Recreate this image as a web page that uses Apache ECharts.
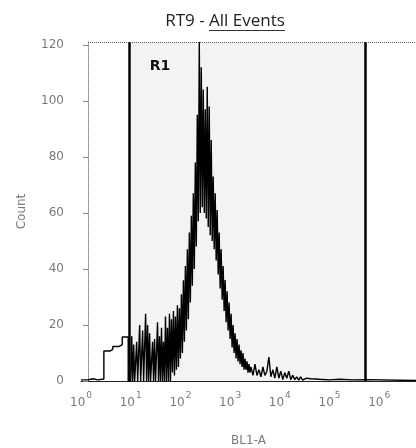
<!DOCTYPE html>
<html>
<head>
<meta charset="utf-8">
<script src="https://cdn.jsdelivr.net/npm/echarts@6/dist/echarts.min.js"></script>
<style>
  html, body { margin: 0; padding: 0; background: #fff; }
  #chart { width: 416px; height: 448px; }
</style>
</head>
<body>
<div id="chart"></div>
<script>
// BL1-A histogram: left edge of each bin (log10 of BL1-A) and event count in that bin
const binLog = [
  0.00, 0.14, 0.24, 0.34, 0.46, 0.58, 0.64, 0.76, 0.83, 0.95,
  1.00, 1.02, 1.04, 1.06, 1.08, 1.10, 1.12, 1.14, 1.16, 1.18,
  1.20, 1.22, 1.24, 1.26, 1.28, 1.30, 1.32, 1.34, 1.36, 1.38,
  1.40, 1.42, 1.44, 1.46, 1.48, 1.50, 1.52, 1.54, 1.56, 1.58,
  1.60, 1.62, 1.64, 1.66, 1.68, 1.70, 1.72, 1.74, 1.76, 1.78,
  1.80, 1.82, 1.84, 1.86, 1.88, 1.90, 1.92, 1.94, 1.96, 1.98,
  2.00, 2.02, 2.04, 2.06, 2.08, 2.10, 2.12, 2.14, 2.16, 2.18,
  2.20, 2.22, 2.24, 2.26, 2.28, 2.30, 2.32, 2.34, 2.36, 2.38,
  2.40, 2.42, 2.44, 2.46, 2.48, 2.50, 2.52, 2.54, 2.56, 2.58,
  2.60, 2.62, 2.64, 2.66, 2.68, 2.70, 2.72, 2.74, 2.76, 2.78,
  2.80, 2.82, 2.84, 2.86, 2.88, 2.90, 2.92, 2.94, 2.96, 2.98,
  3.00, 3.02, 3.04, 3.06, 3.08, 3.10, 3.12, 3.14, 3.16, 3.18,
  3.20, 3.22, 3.24, 3.26, 3.28, 3.30, 3.32, 3.34, 3.36, 3.38,
  3.40,
  3.42, 3.46, 3.50, 3.54, 3.58, 3.62, 3.66, 3.70, 3.74, 3.78,
  3.82, 3.86, 3.90, 3.94, 3.98, 4.02, 4.06, 4.10, 4.14, 4.18,
  4.22, 4.26, 4.30, 4.34, 4.38, 4.42, 4.46, 4.50, 4.54, 4.58,
  4.62, 4.80, 5.00, 5.20, 5.45, 5.72, 6.74
];
const binCount = [
  0.4, 0.8, 0.4, 0.7, 10.7, 11.3, 12.3, 13, 15.7, 0,
  0, 16, 0, 13, 0, 0, 14, 0, 0, 20,
  0, 0, 18, 0, 0, 24, 0, 20, 0, 17,
  0, 0, 14, 0, 15, 0, 0, 21, 0, 16,
  0, 19, 0, 14, 0, 23, 0, 19, 0, 24,
  0, 22, 3, 25, 2, 23, 4, 27, 5, 26,
  8, 31, 10, 36, 14, 41, 18, 47, 22, 53,
  28, 59, 34, 67, 40, 78, 48, 95, 57, 121,
  60, 112, 62, 104, 60, 97, 58, 105, 55, 98,
  52, 86, 50, 73, 47, 67, 43, 61, 38, 53,
  33, 47, 29, 41, 25, 36, 21, 32, 18, 28,
  15, 24, 12, 20, 10, 17, 8, 15, 7, 13,
  6, 11, 5, 10, 4, 8, 4, 7, 3, 6,
  3,
  5, 2, 6, 2, 4, 1.5, 5, 2, 3.5, 8.5,
  1.5, 4, 1, 5, 1, 3.5, 0.5, 3, 1, 3.5,
  0.5, 2, 0.5, 1.5, 0.3, 1.5, 0.3, 1, 0.3, 0.8,
  0.6, 0.4, 0.6, 0.4, 0.5, 0.2, 0.2
];

// axis ticks: decades of BL1-A and counts
const decadeTicks = [0, 1, 2, 3, 4, 5, 6];
const countTicks = [0, 20, 40, 60, 80, 100, 120];

// R1 gate limits (log10 BL1-A)
const gateR1 = [0.98, 5.72];

const titlePlain = 'RT9 - ';
const titleLinked = 'All Events';

const greyText = '#7a7a7a';
const labelFont = 'DejaVu Sans';
const titleFont = '17px "Open Sans"';

const measure = document.createElement('canvas').getContext('2d');
measure.font = titleFont;
const wPlain = measure.measureText(titlePlain).width;
const wLinked = measure.measureText(titleLinked).width;
const titleCenter = 225;
const titleLeft = titleCenter - (wPlain + wLinked) / 2;

const histogram = binLog.map((v, i) => [v, binCount[i]]);

const chart = echarts.init(document.getElementById('chart'), null, { renderer: 'canvas' });
chart.setOption({
  animation: false,
  backgroundColor: '#ffffff',
  grid: { left: 81, right: 0, top: 42, bottom: 67, containLabel: false, outerBoundsMode: 'none' },
  graphic: [
    { type: 'text', x: titleLeft, y: 21,
      style: { text: titlePlain, font: titleFont, fill: '#222', align: 'left', verticalAlign: 'middle' } },
    { type: 'text', x: titleLeft + wPlain, y: 21,
      style: { text: titleLinked, font: titleFont, fill: '#222', align: 'left', verticalAlign: 'middle' } },
    { type: 'rect', shape: { x: titleLeft + wPlain, y: 30, width: wLinked, height: 1 },
      style: { fill: '#333' } }
  ],
  xAxis: {
    type: 'value',
    min: 0,
    max: 6.74,
    name: 'BL1-A',
    nameLocation: 'middle',
    nameGap: 54,
    nameTextStyle: { fontFamily: labelFont, fontSize: 12, color: greyText },
    axisLine: { show: true, lineStyle: { color: '#222', width: 1 } },
    axisTick: { show: false },
    splitLine: { show: false },
    axisLabel: {
      customValues: decadeTicks,
      margin: 10,
      formatter: v => '{b|10}{s|' + v + '}',
      rich: {
        b: { fontFamily: labelFont, fontSize: 12, lineHeight: 18, color: greyText, verticalAlign: 'bottom' },
        s: { fontFamily: labelFont, fontSize: 9, lineHeight: 10, color: greyText, verticalAlign: 'top', padding: [0, 0, 0, 1] }
      }
    }
  },
  yAxis: {
    type: 'value',
    min: 0,
    max: 121,
    offset: -7,
    name: 'Count',
    nameLocation: 'middle',
    nameGap: 60,
    nameRotate: 90,
    nameTextStyle: { fontFamily: labelFont, fontSize: 12, color: greyText },
    axisLine: { show: true, lineStyle: { color: '#888', width: 1, type: 'dotted' } },
    axisTick: { show: true, customValues: countTicks, length: 5, lineStyle: { color: '#888' } },
    splitLine: { show: false },
    axisLabel: {
      customValues: countTicks,
      margin: 24,
      fontFamily: labelFont,
      fontSize: 12,
      color: greyText
    }
  },
  series: [{
    type: 'line',
    step: 'end',
    data: histogram,
    showSymbol: false,
    symbol: 'none',
    lineStyle: { color: '#000', width: 1.4 },
    z: 3,
    markArea: {
      silent: true,
      itemStyle: { color: '#f3f3f3' },
      label: {
        show: true,
        position: [20, 17],
        fontFamily: labelFont,
        fontWeight: 'bold',
        fontSize: 14,
        color: '#111'
      },
      data: [[{ name: 'R1', xAxis: gateR1[0] }, { xAxis: gateR1[1] }]]
    },
    markLine: {
      silent: true,
      symbol: 'none',
      label: { show: false },
      data: [
        { xAxis: gateR1[0], lineStyle: { color: '#000', width: 2.5, type: 'solid' } },
        { xAxis: gateR1[1], lineStyle: { color: '#000', width: 2.5, type: 'solid' } },
        [
          { coord: [0.14, 121], lineStyle: { color: '#555', width: 1, type: 'dotted' } },
          { coord: [6.74, 121] }
        ]
      ]
    }
  }]
});
</script>
</body>
</html>
